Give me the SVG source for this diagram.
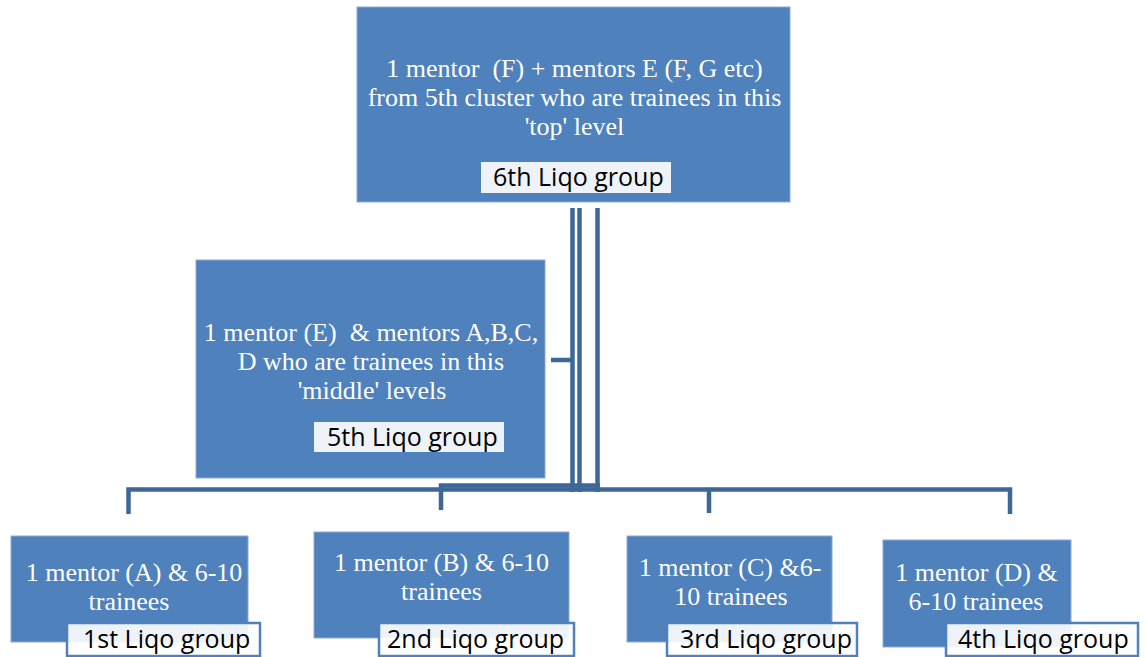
<svg xmlns="http://www.w3.org/2000/svg" width="1146" height="657" viewBox="0 0 1146 657">
<style>
.box{fill:#4f81bd;stroke:#8eaad6;stroke-width:1}
.t{font-family:"Liberation Serif","Times New Roman",serif;font-size:26px;fill:#ffffff;text-anchor:middle;white-space:pre}
.lbl{fill:#ffffff;fill-opacity:0.9}
.lblb{fill:#ffffff;fill-opacity:0.9;stroke:#4f81bd;stroke-width:2.5}
.lt{font-family:"Open Sans","Liberation Sans",sans-serif;font-size:25px;fill:#000000}
.c{fill:none;stroke:#3e6799;stroke-width:4.5}
</style>
<rect width="1146" height="657" fill="#ffffff"/>
<g id="connectors">
<path class="c" d="M572.5,208V492M579.5,208V492M597.5,208V492"/>
<path class="c" d="M551,360H572.5"/>
<path class="c" d="M128.5,514V489.5H1010V514"/>
<path class="c" d="M441,510V485.5H600"/>
<path class="c" d="M709,489.5V513"/>
</g>
<g id="node6">
<rect class="box" x="357" y="7" width="433" height="195"/>
<text class="t" x="574.5" y="76.5" xml:space="preserve">1 mentor  (F) + mentors E (F, G etc)</text>
<text class="t" x="574.5" y="105.5">from 5th cluster who are trainees in this</text>
<text class="t" x="574.5" y="134.5">'top' level</text>
<rect class="lbl" x="481" y="162" width="190" height="31"/>
<text class="lt" x="493" y="185.5">6th Liqo group</text>
</g>
<g id="node5">
<rect class="box" x="196" y="260" width="349" height="218"/>
<text class="t" x="371" y="341" xml:space="preserve">1 mentor (E)  &amp; mentors A,B,C,</text>
<text class="t" x="371" y="370">D who are trainees in this</text>
<text class="t" x="372" y="399">'middle' levels</text>
<rect class="lbl" x="314" y="422" width="190" height="30"/>
<text class="lt" x="327" y="445.5">5th Liqo group</text>
</g>
<g id="node1">
<rect class="box" x="11" y="536" width="237" height="106"/>
<text class="t" x="134" y="581">1 mentor (A) &amp; 6-10</text>
<text class="t" x="129" y="610">trainees</text>
<rect class="lblb" x="67" y="623" width="193" height="33"/>
<text class="lt" x="83" y="648">1st Liqo group</text>
</g>
<g id="node2">
<rect class="box" x="314" y="532" width="255" height="106"/>
<text class="t" x="441.5" y="571">1 mentor (B) &amp; 6-10</text>
<text class="t" x="441.5" y="600">trainees</text>
<rect class="lblb" x="379" y="623" width="195" height="33"/>
<text class="lt" x="387" y="648">2nd Liqo group</text>
</g>
<g id="node3">
<rect class="box" x="627" y="536" width="205" height="106"/>
<text class="t" x="730" y="576">1 mentor (C) &amp;6-</text>
<text class="t" x="731" y="605">10 trainees</text>
<rect class="lblb" x="667" y="623" width="190" height="33"/>
<text class="lt" x="680" y="648">3rd Liqo group</text>
</g>
<g id="node4">
<rect class="box" x="883" y="540" width="188" height="107"/>
<text class="t" x="976.5" y="580.5">1 mentor (D) &amp;</text>
<text class="t" x="976" y="609.5">6-10 trainees</text>
<rect class="lblb" x="946" y="623" width="192" height="33"/>
<text class="lt" x="958" y="648">4th Liqo group</text>
</g>
</svg>
